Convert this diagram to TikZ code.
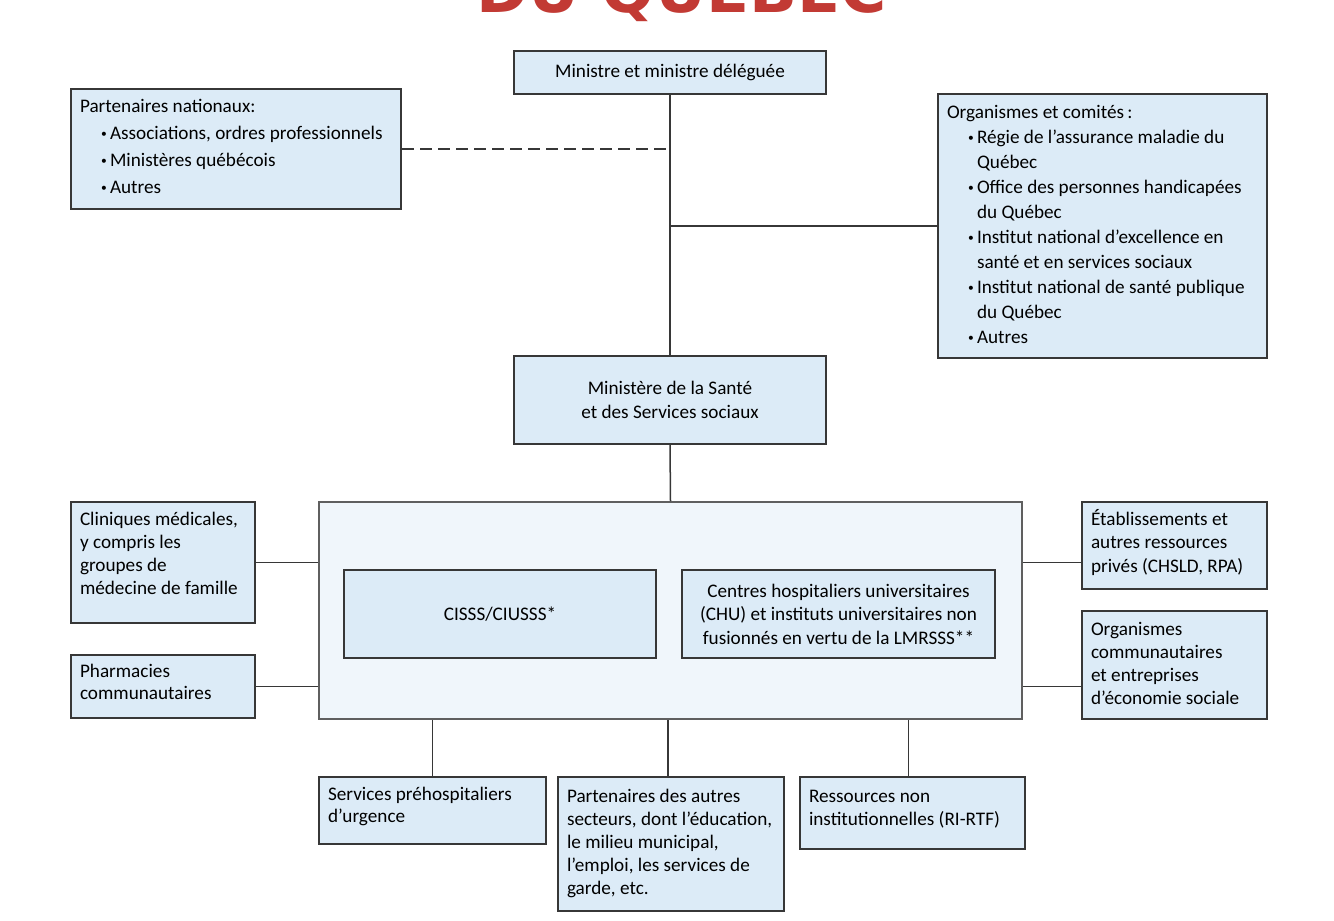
\documentclass[tikz,border=0pt]{standalone}
\usepackage{graphicx}
\usepackage{fontspec}
\setmainfont{Carlito}
\newfontfamily\titlefont{DejaVu Sans}
\usetikzlibrary{calc}
\definecolor{boxfill}{RGB}{220,235,247}
\definecolor{contfill}{RGB}{240,246,251}
\definecolor{boxline}{RGB}{55,55,55}
\definecolor{titlered}{RGB}{194,58,52}
\tikzset{
  box/.style={draw=boxline, fill=boxfill, line width=1pt},
  contbox/.style={draw=boxline!80, fill=contfill, line width=1pt},
  conn/.style={draw=boxline, line width=0.75pt},
  dconn/.style={conn, dash pattern=on 6pt off 3pt}
}
% text box: name, x1, y1, x2, y2, first baseline offset (px), baselineskip (pt), text
\newcommand\tbox[8]{%
  \node[box, anchor=north west, inner xsep=4.5pt, inner ysep=0pt] (#1) at (#2,#3)
   {\parbox[c][\dimexpr(#5pt-#3pt)/2\relax][t]{\dimexpr(#4pt-#2pt)/2-9pt\relax}%
     {\raggedright\baselineskip=#7pt\rule{0pt}{\dimexpr#6pt/2\relax}#8}};}
% centred box: name, x1, y1, x2, y2, style, text
\newcommand\cbox[7]{%
  \node[#6, anchor=north west, inner sep=0pt, align=center,
        minimum width={(#4-#2)*0.5pt}, minimum height={(#5-#3)*0.5pt}] (#1) at (#2,#3) {#7};}
\newcommand\itm{\par\hangindent=15pt\hangafter=1\noindent\hspace*{10.5pt}%
  \makebox[4.5pt][l]{\raisebox{0.1em}{\scalebox{0.6}{\textbullet}}}}
\begin{document}
\begin{tikzpicture}[x=0.5pt,y=-0.5pt, font=\fontsize{9.6}{11.75}\selectfont]
\useasboundingbox (0,0) rectangle (1334,921);
\begin{scope}
\clip (0,0) rectangle (1334,921);
\node[anchor=base west, inner sep=0pt, text=titlered] (title) at (476,12)
  {\resizebox{205pt}{!}{\titlefont\bfseries DU QUÉBEC}};
\end{scope}

% top level
\cbox{min}{513}{50}{825}{93}{box}{Ministre et ministre déléguée}
\tbox{pn}{70}{88}{400}{208}{23}{13.5}{Partenaires nationaux:
  \itm Associations, ordres professionnels
  \itm Ministères québécois
  \itm Autres}
\tbox{org}{937}{93}{1266}{357}{24}{12.5}{Organismes et comités\,:
  \itm Régie de l’assurance maladie du\newline Québec
  \itm Office des personnes handicapées\newline du Québec
  \itm Institut national d’excellence en\newline santé et en services sociaux
  \itm Institut national de santé publique\newline du Québec
  \itm Autres}
\cbox{mss}{513}{355}{825}{443}{box}{Ministère de la Santé\\ et des Services sociaux}

% network container
\cbox{cont}{318}{501}{1021}{718}{contbox}{}
\cbox{cisss}{343}{569}{655}{657}{box}{CISSS/CIUSSS*}
\cbox{chu}{681}{569}{994}{657}{box}{Centres hospitaliers universitaires\\ (CHU) et instituts universitaires non\\ fusionnés en vertu de la LMRSSS**}

% side boxes
\tbox{cli}{70}{501}{254}{622}{23}{11.5}{Cliniques médicales,\\ y compris les\\ groupes de\\ médecine de famille}
\tbox{pha}{70}{654}{254}{717}{22}{11}{Pharmacies\\ communautaires}
\tbox{eta}{1081}{501}{1266}{588}{23}{11.75}{Établissements et\\ autres ressources\\ privés (CHSLD, RPA)}
\tbox{occ}{1081}{610}{1266}{718}{24}{11.5}{Organismes\\ communautaires\\ et entreprises\\ d’économie sociale}

% bottom boxes
\tbox{svc}{318}{776}{545}{843}{23}{11}{Services préhospitaliers\\ d’urgence}
\tbox{pas}{557}{776}{783}{910}{25}{11.5}{Partenaires des autres\\ secteurs, dont l’éducation,\\ le milieu municipal,\\ l’emploi, les services de\\ garde, etc.}
\tbox{rni}{799}{776}{1024}{848}{25}{11.5}{Ressources non\\ institutionnelles (RI-RTF)}

% connectors
\draw[conn] (min.south) -- (mss.north);
\draw[dconn] (pn.east) -- (pn.east -| min.south);
\draw[conn] (org.west) -- (org.west -| min.south);
\draw[conn] (mss.south) -- (cont.north);
\draw[conn] (cli.east) -- (cli.east -| cont.west);
\draw[conn] (pha.east) -- (pha.east -| cont.west);
\draw[conn] (cli.east -| cont.east) -- (cli.east -| eta.west);
\draw[conn] (pha.east -| cont.east) -- (pha.east -| occ.west);
\draw[conn] (svc.north) -- (svc.north |- cont.south);
\draw[conn] ($(pas.north)+(-3,0)$) coordinate (pasn) -- (pasn |- cont.south);
\draw[conn] ($(rni.north)+(-4,0)$) coordinate (rnin) -- (rnin |- cont.south);
\end{tikzpicture}
\end{document}
